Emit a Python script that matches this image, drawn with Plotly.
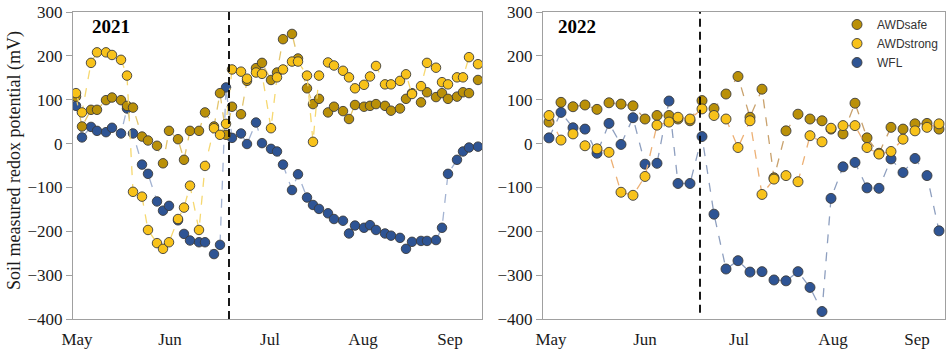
import plotly.graph_objects as go

# ---------------- data ----------------
DATES_2021 = ["2021-04-30", "2021-05-02", "2021-05-05", "2021-05-07", "2021-05-10", "2021-05-12",
              "2021-05-15", "2021-05-17", "2021-05-19", "2021-05-22", "2021-05-24", "2021-05-27",
              "2021-05-29", "2021-05-31", "2021-06-03", "2021-06-05", "2021-06-07", "2021-06-10",
              "2021-06-12", "2021-06-15", "2021-06-17", "2021-06-19", "2021-06-21", "2021-06-24",
              "2021-06-26", "2021-06-29", "2021-07-01", "2021-07-04", "2021-07-06", "2021-07-08",
              "2021-07-11", "2021-07-13", "2021-07-16", "2021-07-18", "2021-07-20", "2021-07-23",
              "2021-07-25", "2021-07-28", "2021-07-30", "2021-08-01", "2021-08-04", "2021-08-06",
              "2021-08-08", "2021-08-11", "2021-08-13", "2021-08-16", "2021-08-18", "2021-08-20",
              "2021-08-23", "2021-08-25", "2021-08-28", "2021-08-30", "2021-09-01", "2021-09-04",
              "2021-09-06", "2021-09-08", "2021-09-11"]
WFL_2021 = [86, 14, 38, 29, 26, 36, 23, 80, 23, -48, -69, -132, -153, -142, -175, -206, -221, -225,
            -225, -252, -231, 128, 13, 23, -1, 48, 1, -12, -18, -48, -106, -70, -123, -140, -149,
            -159, -172, -176, -205, -187, -192, -186, -197, -205, -210, -215, -240, -224, -222,
            -222, -220, -192, -69, -37, -18, -9, -7]
AWDSAFE_2021 = [107, 39, 77, 77, 99, 105, 99, 86, 82, 16, 7, -5, -45, 29, 10, -37, 29, 29, 71, 39,
                115, 20, 84, 67, 143, 172, 184, 145, 162, 238, 250, 194, 126, 90, 102, 71, 84, 74,
                56, 88, 84, 86, 90, 86, 75, 80, 102, 115, 94, 117, 106, 115, 102, 107, 117, 115, 145]
AWDSTRONG_2021 = [115, 71, 184, 208, 208, 202, 191, 155, -110, -121, -197, -227, -240, -225, -172,
                  -146, -96, -197, -51, 35, 20, 45, 169, 164, 148, 162, 159, 35, 151, 169, 187, 187,
                  155, 4, 155, 185, 178, 166, 151, 126, 134, 153, 177, 135, 135, 143, 158, 113, 131,
                  184, 173, 140, 135, 151, 151, 197, 181]

DATES_2022 = ["2022-04-30", "2022-05-04", "2022-05-08", "2022-05-12", "2022-05-16", "2022-05-20",
              "2022-05-24", "2022-05-28", "2022-06-01", "2022-06-05", "2022-06-09", "2022-06-12",
              "2022-06-16", "2022-06-20", "2022-06-24", "2022-06-28", "2022-07-02", "2022-07-06",
              "2022-07-10", "2022-07-14", "2022-07-18", "2022-07-22", "2022-07-26", "2022-07-30",
              "2022-08-02", "2022-08-06", "2022-08-10", "2022-08-14", "2022-08-18", "2022-08-22",
              "2022-08-26", "2022-08-30", "2022-09-03", "2022-09-07"]
WFL_2022 = [13, 71, 36, 33, -22, 46, -2, 59, -47, -45, 97, -91, -91, 16, -161, -286, -267, -293,
            -292, -311, -313, -292, -328, -383, -125, -53, -43, -101, -102, -35, -66, -34, -73, -199]
AWDSAFE_2022 = [49, 94, 84, 88, 78, 93, 90, 86, 56, 64, 64, 56, 52, 98, 80, 113, 153, 60, 124, -78,
                29, 67, 56, 52, 33, 22, 92, 13, -22, 37, 33, 45, 46, 33]
AWDSTRONG_2022 = [64, 8, 22, -5, -12, -20, -111, -118, -75, 42, 49, 60, 56, 79, 64, 56, -9, 52, -116,
                  -81, -73, -87, 18, 4, 35, 41, 41, -9, -24, -18, 10, 29, 37, 45]

EVENT_2021 = "2021-06-20"
EVENT_2022 = "2022-06-19 08:00"

MONTH_LABELS = ["May", "Jun", "Jul", "Aug", "Sep"]
MONTH_TICKS_2021 = ["2021-04-30 08:00", "2021-05-31 08:00", "2021-07-03 16:00",
                    "2021-08-03 16:00", "2021-09-01 16:00"]
MONTH_TICKS_2022 = ["2022-04-30 16:00", "2022-06-01 00:00", "2022-07-02 08:00",
                    "2022-08-02 16:00", "2022-08-30 16:00"]
Y_TICKS = [300, 200, 100, 0, -100, -200, -300, -400]

# ---------------- styles ----------------
FILL = {"AWDsafe": "#BA9008", "AWDstrong": "#F8C21A", "WFL": "#2E5494"}
LINE_2021 = {"AWDsafe": "#E3C56E", "AWDstrong": "#F6D870", "WFL": "#A3B3D2"}
LINE_2022 = {"AWDsafe": "#C9A26E", "AWDstrong": "#EDB074", "WFL": "#8E9FBF"}
OUTLINE = "#3C3C3C"
SERIF = "Liberation Serif"

W, H = 947, 351


def px(x):
    return x / W


def py(y):
    return 1 - y / H


fig = go.Figure()

panels = [
    ("x", "y", DATES_2021, {"WFL": WFL_2021, "AWDsafe": AWDSAFE_2021, "AWDstrong": AWDSTRONG_2021}, LINE_2021, False, 9.5),
    ("x2", "y2", DATES_2022, {"WFL": WFL_2022, "AWDsafe": AWDSAFE_2022, "AWDstrong": AWDSTRONG_2022}, LINE_2022, True, 10),
]
rank = {"AWDsafe": 1, "AWDstrong": 2, "WFL": 3}
for xa, ya, dates, series, lcol, show, msize in panels:
    for name in ["WFL", "AWDsafe", "AWDstrong"]:
        fig.add_trace(go.Scatter(
            x=dates, y=series[name], xaxis=xa, yaxis=ya, mode="lines",
            line=dict(color=lcol[name], width=1.3, dash="dash"),
            showlegend=False, hoverinfo="skip"))
        fig.add_trace(go.Scatter(
            x=dates, y=series[name], xaxis=xa, yaxis=ya, mode="markers", name=name,
            marker=dict(size=msize, color=FILL[name], line=dict(color=OUTLINE, width=0.9)),
            showlegend=show, legendrank=rank[name]))

axis_common = dict(showgrid=False, zeroline=False, showline=True, linecolor="#A0A0A0",
                   linewidth=1, mirror=True)
yax = dict(range=[-400, 300], tickvals=Y_TICKS, ticks="outside", ticklen=6, tickcolor="#A0A0A0",
           tickfont=dict(family=SERIF, size=17, color="#1a1a1a"), automargin=False, **axis_common)
xax = dict(type="date", tickmode="array", ticktext=MONTH_LABELS, ticks="outside", ticklen=5,
           tickcolor="rgba(0,0,0,0)", tickfont=dict(family=SERIF, size=17, color="#1a1a1a"),
           automargin=False, **axis_common)

ydom = [py(319), py(12)]
fig.update_layout(
    width=W, height=H, margin=dict(l=0, r=0, t=0, b=0),
    paper_bgcolor="white", plot_bgcolor="white",
    xaxis=dict(domain=[px(73), px(482)], range=["2021-04-29", "2021-09-12 08:00"],
               tickvals=MONTH_TICKS_2021, **xax),
    xaxis2=dict(domain=[px(543), px(945)], range=["2022-04-28", "2022-09-09"],
                tickvals=MONTH_TICKS_2022, **xax),
    yaxis=dict(domain=ydom, anchor="x", **yax),
    yaxis2=dict(domain=ydom, anchor="x2", **yax),
    legend=dict(x=px(837), y=py(10), xanchor="left", yanchor="top",
                font=dict(family="Liberation Sans", size=12, color="#333333"),
                bgcolor="rgba(0,0,0,0)", tracegroupgap=0),
    showlegend=True,
    shapes=[
        dict(type="line", xref="x", yref="y domain", x0=EVENT_2021, x1=EVENT_2021, y0=0, y1=1,
             line=dict(color="black", width=1.8, dash="8px,5px")),
        dict(type="line", xref="x2", yref="y2 domain", x0=EVENT_2022, x1=EVENT_2022, y0=0.02, y1=1,
             line=dict(color="black", width=1.8, dash="8px,5px")),
    ],
    annotations=[
        dict(text="<b>2021</b>", xref="paper", yref="paper", x=px(90), y=py(27),
             xanchor="left", yanchor="middle", showarrow=False,
             font=dict(family=SERIF, size=19, color="black")),
        dict(text="<b>2022</b>", xref="paper", yref="paper", x=px(556), y=py(27),
             xanchor="left", yanchor="middle", showarrow=False,
             font=dict(family=SERIF, size=19, color="black")),
        dict(text="Soil measured redox potential (mV)", xref="paper", yref="paper",
             x=px(14), y=py(161), xanchor="center", yanchor="middle", textangle=-90,
             showarrow=False, font=dict(family=SERIF, size=18, color="#1a1a1a")),
    ],
)

# remove the default 8px page margin so the figure starts at the window's corner
fig.write_html("out.html", config={"displayModeBar": False},
               post_script="document.body.style.margin='0px';")
